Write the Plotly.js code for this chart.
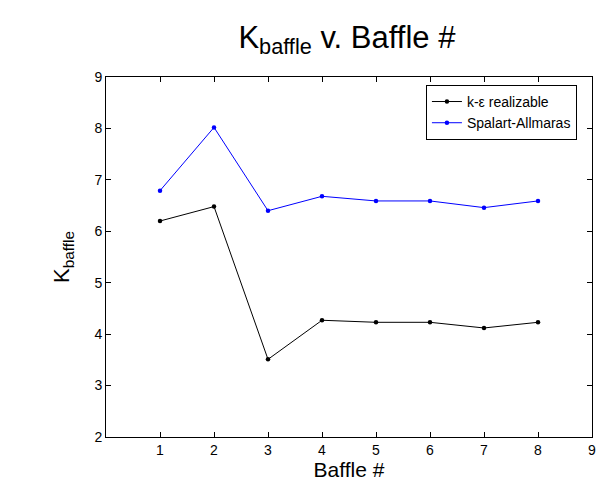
<!DOCTYPE html>
<html>
<head>
<meta charset="utf-8">
<script src="https://cdn.plot.ly/plotly-3.0.1.min.js"></script>
<style>
  html, body { margin: 0; padding: 0; background: white; }
  #chart { width: 614px; height: 493px; }
</style>
</head>
<body>
<div id="chart"></div>
<script>
// Baffle numbers and K values
const baffles = [1, 2, 3, 4, 5, 6, 7, 8];
const kEpsRealizable = [6.20, 6.48, 3.51, 4.27, 4.23, 4.23, 4.12, 4.23];
const spalartAllmaras = [6.79, 8.02, 6.40, 6.68, 6.59, 6.59, 6.46, 6.59];
const xTicks = [1, 2, 3, 4, 5, 6, 7, 8, 9];

const font = 'Arial, "Liberation Sans", sans-serif';

const traces = [
    {
        x: baffles,
        y: kEpsRealizable,
        name: 'k-\u03b5 realizable',
        type: 'scatter',
        mode: 'lines+markers',
        line: { color: '#000000', width: 1 },
        marker: { color: '#000000', size: 4.5 }
    },
    {
        x: baffles,
        y: spalartAllmaras,
        name: 'Spalart-Allmaras',
        type: 'scatter',
        mode: 'lines+markers',
        line: { color: '#0000ff', width: 1 },
        marker: { color: '#0000ff', size: 4.5 }
    }
];

const axisCommon = {
    showgrid: false,
    zeroline: false,
    showline: true,
    linecolor: '#000000',
    linewidth: 1,
    mirror: 'ticks',
    ticks: 'inside',
    ticklen: 5,
    tickcolor: '#000000',
    tickfont: { family: font, size: 14, color: '#000000' },
    fixedrange: true
};

const layout = {
    width: 614,
    height: 493,
    paper_bgcolor: 'white',
    plot_bgcolor: 'white',
    margin: { l: 106, r: 22, t: 77, b: 56 },
    font: { family: font, color: '#000000' },
    showlegend: true,
    title: {
        text: 'K<sub>baffle</sub> v. Baffle #',
        font: { family: font, size: 31, color: '#000000' },
        x: 0.565,
        xanchor: 'center',
        y: 0.925,
        yanchor: 'middle'
    },
    xaxis: {
        ...axisCommon,
        range: [0, 9],
        tickvals: xTicks,
        title: { text: 'Baffle #', font: { family: font, size: 21, color: '#000000' }, standoff: 4 }
    },
    yaxis: {
        ...axisCommon,
        range: [2, 9],
        dtick: 1,
        title: { text: 'K<sub>baffle</sub>', font: { family: font, size: 22, color: '#000000' }, standoff: 18 }
    },
    legend: {
        x: 0.969,
        xanchor: 'right',
        y: 0.978,
        yanchor: 'top',
        bgcolor: 'white',
        bordercolor: '#000000',
        borderwidth: 1,
        font: { family: font, size: 14, color: '#000000' },
        tracegroupgap: 0
    }
};

Plotly.newPlot('chart', traces, layout, { displayModeBar: false, staticPlot: true });
</script>
</body>
</html>
